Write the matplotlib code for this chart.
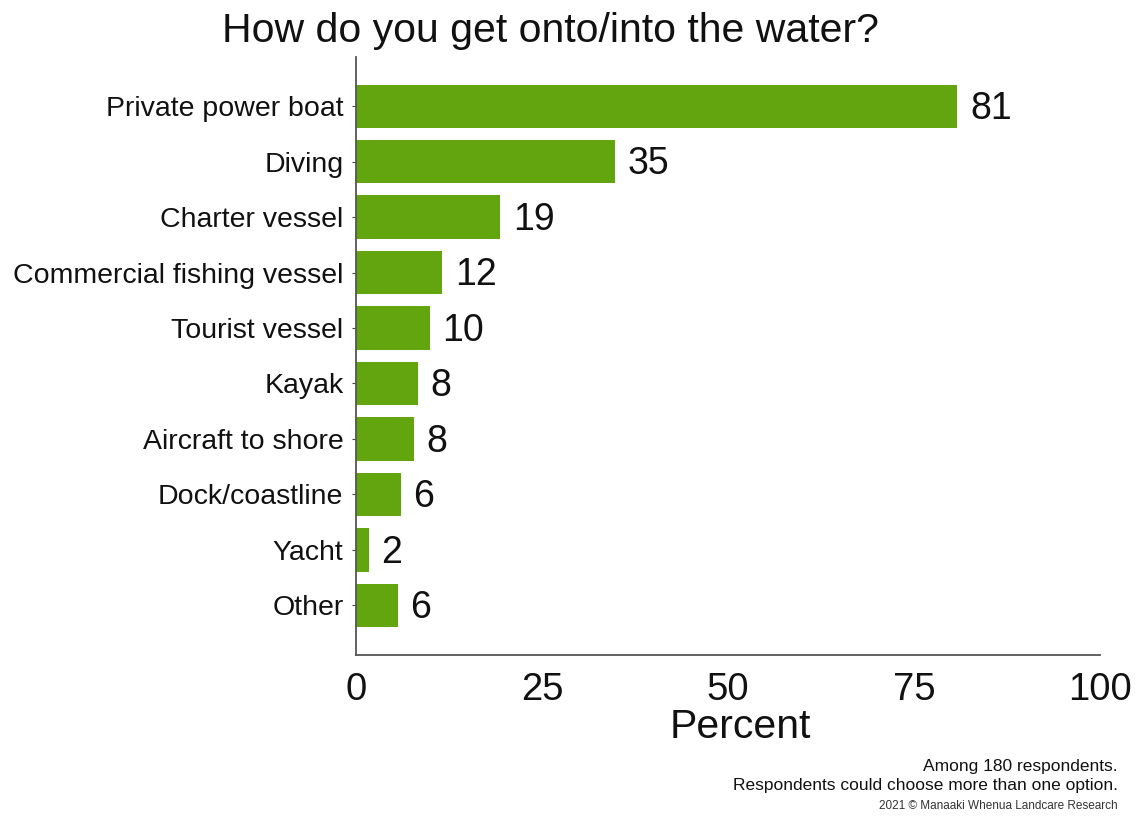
import matplotlib.pyplot as plt

# Data (bars are slightly off the rounded labels)
categories = ['Private power boat', 'Diving', 'Charter vessel', 'Commercial fishing vessel',
              'Tourist vessel', 'Kayak', 'Aircraft to shore', 'Dock/coastline', 'Yacht', 'Other']
values = [80.8, 34.8, 19.4, 11.6, 9.9, 8.3, 7.8, 6.0, 1.7, 5.6]
labels = ['81', '35', '19', '12', '10', '8', '8', '6', '2', '6']
xticks = [0, 25, 50, 75, 100]

plt.rcParams['font.family'] = ['Liberation Sans', 'DejaVu Sans']

fig = plt.figure(figsize=(11.38, 8.16), dpi=100)
ax = fig.add_axes([0.3128, 0.197, 0.654, 0.733])

pos = list(range(len(categories)))
ax.barh(pos, values, height=0.78, color='#63a50e')
for p, v, lab in zip(pos, values, labels):
    ax.text(v + 1.7, p + 0.05, lab, va='center', ha='left', fontsize=27, color='#111111')

ax.set_ylim(9.9, -0.885)
ax.set_xlim(0, 100)
ax.set_yticks(pos)
ax.set_yticklabels(categories, fontsize=20.5, color='#111111')
ax.set_xticks(xticks)
ax.set_xticklabels([str(t) for t in xticks], fontsize=27.5, color='#111111')
ax.tick_params(axis='x', length=0, pad=12)
ax.tick_params(axis='y', length=3, pad=6, color='#444444')
ax.set_xlabel('Percent', fontsize=29.5, color='#111111')
ax.xaxis.set_label_coords(0.517, -0.088)
for s in ['top', 'right']:
    ax.spines[s].set_visible(False)
for s in ['left', 'bottom']:
    ax.spines[s].set_color('#555555')
    ax.spines[s].set_linewidth(1.3)

fig.text(0.484, 0.962, 'How do you get onto/into the water?', ha='center', va='center',
         fontsize=29.5, color='#111111')
fig.text(0.9825, 0.061, 'Among 180 respondents.', ha='right', va='center', fontsize=12.5, color='#111111')
fig.text(0.9825, 0.037, 'Respondents could choose more than one option.', ha='right', va='center',
         fontsize=12.5, color='#111111')
fig.text(0.9825, 0.012, '2021 \u00a9 Manaaki Whenua Landcare Research', ha='right', va='center',
         fontsize=8.5, color='#333333')

fig.savefig('out.png', dpi=100)
